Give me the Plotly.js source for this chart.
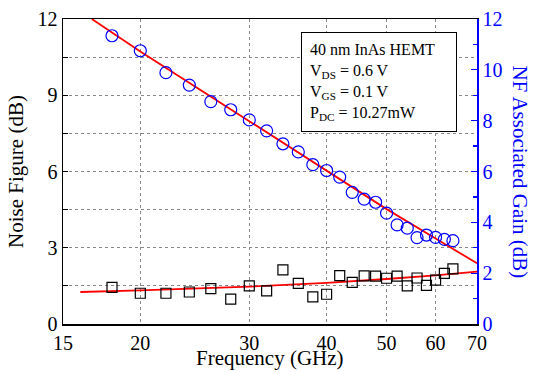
<!DOCTYPE html>
<html>
<head>
<meta charset="utf-8">
<script src="https://cdn.plot.ly/plotly-3.0.1.min.js"></script>
<style>html,body{margin:0;padding:0;background:#fff;}#chart{width:537px;height:372px;}</style>
</head>
<body>
<div id="chart"></div>
<script>
// Frequency points (GHz)
const freq = [18, 20, 22, 24, 26, 28, 30, 32, 34, 36, 38, 40, 42, 44, 46, 48, 50, 52, 54, 56, 58, 60, 62, 64];
// Noise figure (dB), left axis
const noiseFigure = [1.44, 1.21, 1.21, 1.26, 1.39, 0.98, 1.50, 1.30, 2.13, 1.60, 1.07, 1.17, 1.90, 1.64, 1.89, 1.88, 1.80, 1.88, 1.50, 1.81, 1.52, 1.73, 1.99, 2.17];
// NF associated gain (dB), right axis
const assocGain = [11.34, 10.75, 9.89, 9.40, 8.75, 8.43, 8.03, 7.60, 7.09, 6.77, 6.27, 6.04, 5.78, 5.18, 4.91, 4.79, 4.36, 3.90, 3.77, 3.40, 3.50, 3.41, 3.33, 3.28];
// Fit lines
const nfFitFreq = [16, 20, 30, 40, 50, 60, 70];
const nfFitVal = [1.26, 1.32, 1.47, 1.62, 1.77, 1.91, 2.06];
const gainFitFreq = [16.7, 20, 30, 40, 50, 60, 70];
const gainFitVal = [12.0, 10.72, 7.98, 6.02, 4.52, 3.36, 2.39];
// Tick labels
const xTicks = [15, 20, 30, 40, 50, 60, 70];
const yLeftTicks = [0, 1.5, 3, 4.5, 6, 7.5, 9, 10.5, 12];
const yLeftLabels = ['0', '', '3', '', '6', '', '9', '', '12'];

const serifFamily = 'Liberation Serif, serif';

const traces = [
  {x: nfFitFreq, y: nfFitVal, mode: 'lines', line: {color: '#ff0000', width: 1.8}, yaxis: 'y', hoverinfo: 'skip'},
  {x: gainFitFreq, y: gainFitVal, mode: 'lines', line: {color: '#ff0000', width: 1.8}, yaxis: 'y2', hoverinfo: 'skip'},
  {x: freq, y: noiseFigure, mode: 'markers', yaxis: 'y',
   marker: {symbol: 'square-open', size: 10, color: '#000', line: {width: 1.2, color: '#000'}}},
  {x: freq, y: assocGain, mode: 'markers', yaxis: 'y2',
   marker: {symbol: 'circle-open', size: 12, color: '#0000ff', line: {width: 1.2, color: '#0000ff'}}}
];

const layout = {
  width: 537, height: 372,
  margin: {l: 63, r: 60, t: 19, b: 48},
  paper_bgcolor: '#fff', plot_bgcolor: '#fff',
  showlegend: false,
  font: {family: serifFamily, color: '#000', size: 20},
  xaxis: {
    type: 'log', range: [Math.log10(15), Math.log10(70)],
    tickmode: 'array', tickvals: xTicks, ticktext: xTicks.map(String),
    ticks: '',
    showgrid: true, gridcolor: '#888', griddash: 'dot', gridwidth: 1,
    showline: true, linecolor: '#000', linewidth: 1.5, mirror: true,
    tickfont: {size: 20, family: serifFamily, color: '#000'},
    zeroline: false
  },
  yaxis: {
    range: [0, 12],
    tickmode: 'array', tickvals: yLeftTicks, ticktext: yLeftLabels,
    ticks: 'inside', ticklen: 5, tickcolor: '#000',
    showgrid: true, gridcolor: '#888', griddash: 'dot', gridwidth: 1,
    showline: true, linecolor: '#000', linewidth: 1.5,
    tickfont: {size: 20, family: serifFamily, color: '#000'},
    zeroline: false
  },
  yaxis2: {
    overlaying: 'y', side: 'right', range: [0, 12],
    tick0: 0, dtick: 2,
    ticks: 'inside', ticklen: 6, tickcolor: '#0000ff', tickwidth: 1.2,
    minor: {dtick: 1, ticks: 'inside', ticklen: 4, tickcolor: '#0000ff', showgrid: false},
    showgrid: false, zeroline: false,
    showline: true, linecolor: '#0000ff', linewidth: 1.5,
    tickfont: {size: 20, family: serifFamily, color: '#0000ff'}
  },
  annotations: [
    {xref: 'paper', yref: 'paper', x: -0.115, y: 0.5, xanchor: 'center', yanchor: 'middle',
     text: 'Noise Figure (dB)', textangle: -90, showarrow: false,
     font: {size: 21, family: serifFamily, color: '#000'}},
    {xref: 'paper', yref: 'paper', x: 0.5, y: -0.112, xanchor: 'center', yanchor: 'middle',
     text: 'Frequency (GHz)', showarrow: false,
     font: {size: 21, family: serifFamily, color: '#000'}},
    {xref: 'paper', yref: 'paper', x: 1.104, y: 0.5, xanchor: 'center', yanchor: 'middle',
     text: 'NF Associated Gain (dB)', textangle: 90, showarrow: false,
     font: {size: 21, family: serifFamily, color: '#0000ff'}},
    {xref: 'paper', yref: 'paper', x: 0.575, y: 0.958, xanchor: 'left', yanchor: 'top',
     text: '40 nm InAs HEMT<br>V<sub>DS</sub> = 0.6 V<br>V<sub>GS</sub> = 0.1 V<br>P<sub>DC</sub> = 10.27mW',
     align: 'left', showarrow: false, bgcolor: '#fff', bordercolor: '#000', borderwidth: 1, borderpad: 8,
     width: 138, height: 82,
     font: {size: 16, family: serifFamily, color: '#000'}}
  ]
};

Plotly.newPlot('chart', traces, layout, {staticPlot: true, displayModeBar: false});
</script>
</body>
</html>
